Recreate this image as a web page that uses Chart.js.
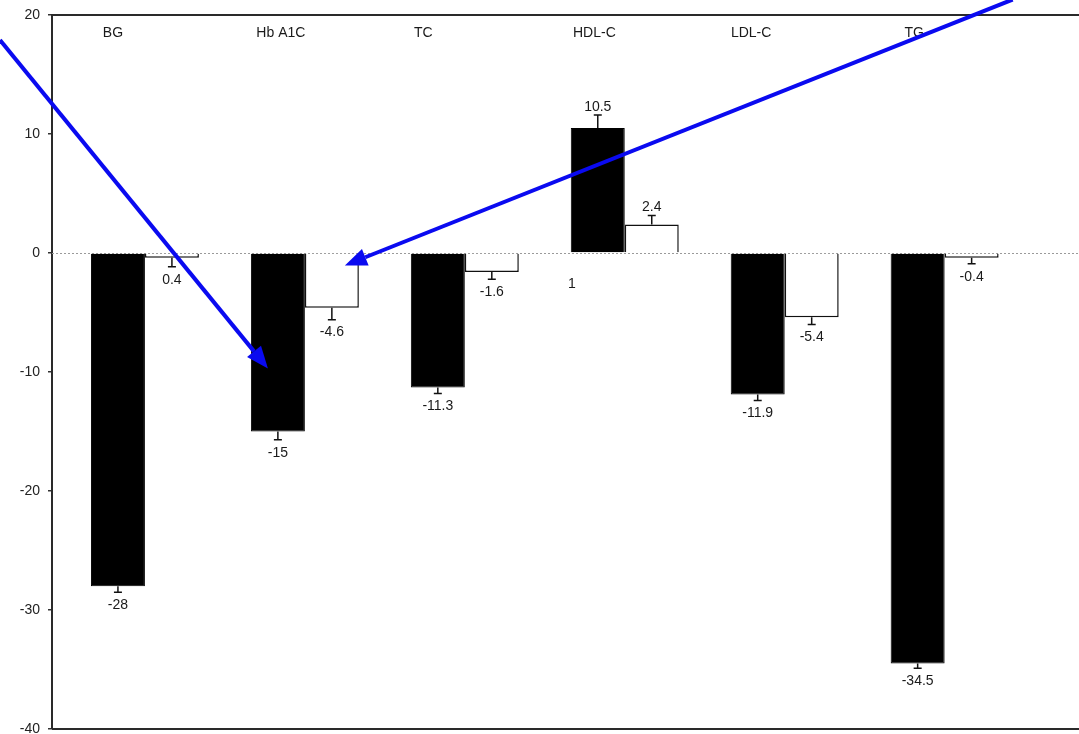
<!DOCTYPE html>
<html>
<head>
<meta charset="utf-8">
<script src="https://cdn.jsdelivr.net/npm/chart.js@4.4.0/dist/chart.umd.min.js"></script>
<style>
    html, body { margin: 0; padding: 0; background: #fff; }
    #wrap { width: 1079px; height: 734px; position: relative; }
</style>
</head>
<body>
<div id="wrap"><canvas id="chart"></canvas></div>
<script>
// change in lipid / glycaemic markers, two groups per marker
const markers = ["BG", "Hb A1C", "TC", "HDL-C", "LDL-C", "TG"];
const groupA = [-28, -15, -11.3, 10.5, -11.9, -34.5];
const groupB = [-0.4, -4.6, -1.6, 2.4, -5.4, -0.4];
const errorA = [0.5, 0.7, 0.5, 1.1, 0.5, 0.4];
const errorB = [0.75, 1.0, 0.6, 0.75, 0.6, 0.5];
const labelsA = ["-28", "-15", "-11.3", "10.5", "-11.9", "-34.5"];
const labelsB = ["0.4", "-4.6", "-1.6", "2.4", "-5.4", "-0.4"];
const yTicks = [20, 10, 0, -10, -20, -30, -40];

// arrows drawn over the bars, in axis units: [x0, y0, x1, y1]
const arrows = [
    [-0.906, 17.9, 0.769, -9.7],
    [5.425, 21.3, 1.25, -1.04]
];
// stray mark below HDL-C
const strayNote = { text: "1", x: 2.67, y: -2.6 };

// horizontal shift of each marker name from its group centre (x units)
const nameShift = [-0.2, -0.15, -0.26, -0.19, -0.21, -0.19];

const font = "14px 'Liberation Sans', Arial, sans-serif";

const overlay = {
    id: "overlay",
    beforeDatasetsDraw(chart) {
        const { ctx, chartArea: a, scales: { y } } = chart;
        ctx.save();
        // frame lines top and bottom
        ctx.strokeStyle = "#2a2a2a";
        ctx.lineWidth = 2;
        ctx.beginPath();
        ctx.moveTo(a.left, a.top); ctx.lineTo(a.right, a.top);
        ctx.moveTo(a.left, a.bottom); ctx.lineTo(a.right, a.bottom);
        ctx.stroke();
        // dotted zero line
        ctx.strokeStyle = "#9a9a9a";
        ctx.lineWidth = 1;
        ctx.setLineDash([2, 2]);
        const y0 = Math.round(y.getPixelForValue(0)) + 0.5;
        ctx.beginPath();
        ctx.moveTo(a.left, y0); ctx.lineTo(a.right, y0);
        ctx.stroke();
        ctx.restore();
    },
    afterDatasetsDraw(chart) {
        const { ctx, scales: { x, y } } = chart;
        ctx.save();
        ctx.font = font;
        ctx.fillStyle = "#1a1a1a";
        ctx.textAlign = "center";

        // error bars and value labels
        [[groupA, errorA, labelsA], [groupB, errorB, labelsB]].forEach(([vals, errs, labs], d) => {
            const meta = chart.getDatasetMeta(d);
            meta.data.forEach((bar, i) => {
                const v = vals[i];
                const dir = v < 0 ? -1 : 1;
                const yEnd = y.getPixelForValue(v);
                const yCap = y.getPixelForValue(v + dir * errs[i]);
                ctx.strokeStyle = "#111";
                ctx.lineWidth = 1.5;
                ctx.beginPath();
                ctx.moveTo(bar.x, yEnd); ctx.lineTo(bar.x, yCap);
                ctx.moveTo(bar.x - 4, yCap); ctx.lineTo(bar.x + 4, yCap);
                ctx.stroke();
                if (dir < 0) {
                    ctx.textBaseline = "top";
                    ctx.fillText(labs[i], bar.x, yCap + 6);
                } else {
                    ctx.textBaseline = "bottom";
                    ctx.fillText(labs[i], bar.x, yCap - 1);
                }
            });
        });

        // marker names along the top
        ctx.textBaseline = "middle";
        markers.forEach((m, i) => {
            ctx.fillText(m, x.getPixelForValue(i + nameShift[i]), 33);
        });
        ctx.fillText(strayNote.text, x.getPixelForValue(strayNote.x), y.getPixelForValue(strayNote.y));

        // blue arrows
        ctx.strokeStyle = "#0a0af0";
        ctx.fillStyle = "#0a0af0";
        ctx.lineWidth = 4;
        arrows.forEach(([x0, y0, x1, y1]) => {
            const ax = x.getPixelForValue(x0), ay = y.getPixelForValue(y0);
            const bx = x.getPixelForValue(x1), by = y.getPixelForValue(y1);
            const ang = Math.atan2(by - ay, bx - ax);
            const len = 22, half = 9;
            const baseX = bx - len * Math.cos(ang), baseY = by - len * Math.sin(ang);
            ctx.beginPath();
            ctx.moveTo(ax, ay); ctx.lineTo(baseX, baseY);
            ctx.stroke();
            ctx.beginPath();
            ctx.moveTo(bx, by);
            ctx.lineTo(baseX + half * Math.sin(ang), baseY - half * Math.cos(ang));
            ctx.lineTo(baseX - half * Math.sin(ang), baseY + half * Math.cos(ang));
            ctx.closePath();
            ctx.fill();
        });
        ctx.restore();
    }
};

new Chart(document.getElementById("chart").getContext("2d"), {
    type: "bar",
    data: {
        datasets: [{
            data: groupA.map((v, i) => ({ x: i, y: v })),
            backgroundColor: "#000",
            borderColor: "#000",
            borderWidth: 1
        }, {
            data: groupB.map((v, i) => ({ x: i, y: v })),
            backgroundColor: "#fff",
            borderColor: "#111",
            borderWidth: 1.5
        }]
    },
    options: {
        responsive: true,
        maintainAspectRatio: false,
        animation: false,
        categoryPercentage: 0.675,
        barPercentage: 1.0,
        layout: { padding: { top: 15, bottom: 5, right: 0, left: 0 } },
        plugins: {
            legend: { display: false },
            tooltip: { enabled: false }
        },
        scales: {
            x: {
                type: "linear",
                min: -0.581,
                max: 5.84,
                offset: false,
                display: false,
                afterBuildTicks: axis => { axis.ticks = markers.map((m, i) => ({ value: i })); }
            },
            y: {
                min: -40,
                max: 20,
                afterBuildTicks: axis => { axis.ticks = yTicks.map(v => ({ value: v })); },
                afterFit: axis => {
                    axis.width = 52;
                    axis.paddingTop = 0;
                    axis.paddingBottom = 0;
                },
                ticks: {
                    color: "#222",
                    font: { family: "'Liberation Sans', Arial, sans-serif", size: 14 },
                    padding: 8
                },
                grid: {
                    drawOnChartArea: false,
                    drawTicks: true,
                    tickLength: 4,
                    color: "#333",
                    lineWidth: 1.5
                },
                border: { display: true, color: "#2a2a2a", width: 2 }
            }
        }
    },
    plugins: [overlay]
});
</script>
</body>
</html>
